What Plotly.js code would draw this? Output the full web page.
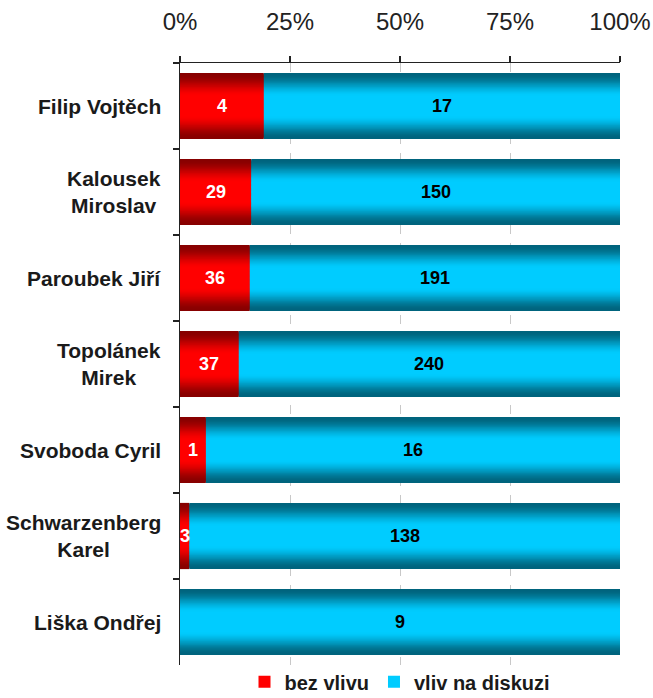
<!DOCTYPE html>
<html>
<head>
<meta charset="utf-8">
<script src="https://cdn.plot.ly/plotly-3.0.1.min.js"></script>
<style>
html,body{margin:0;padding:0;background:#fff;}
#chart{width:653px;height:698px;}
</style>
</head>
<body>
<div id="chart"></div>
<script>
// ---- data ----
var categories = ['Filip Vojtěch', 'Kalousek Miroslav', 'Paroubek Jiří', 'Topolánek Mirek', 'Svoboda Cyril', 'Schwarzenberg Karel', 'Liška Ondřej'];
var categoryLabels = ['Filip Vojtěch', 'Kalousek<br>Miroslav', 'Paroubek Jiří', 'Topolánek<br>Mirek', 'Svoboda Cyril', 'Schwarzenberg<br>Karel', 'Liška Ondřej'];
var bezVlivu = [4, 29, 36, 37, 1, 3, 0];
var vlivNaDiskuzi = [17, 150, 191, 240, 16, 138, 9];
var seriesNames = ['bez vlivu', 'vliv na diskuzi'];
var tickValues = [0, 25, 50, 75, 100];
var tickLabels = ['0%', '25%', '50%', '75%', '100%'];

// ---- derived shares (100% stacked) ----
var totals = bezVlivu.map(function (v, i) { return v + vlivNaDiskuzi[i]; });
var pctRed = bezVlivu.map(function (v, i) { return 100 * v / totals[i]; });
var pctBlue = vlivNaDiskuzi.map(function (v, i) { return 100 * v / totals[i]; });

// ---- styling: vertical gradient via stacked layers ----
var BAR_W = 0.77;
var N = 26;
var redDark = [135, 0, 0], redBright = [255, 0, 0];
var blueDark = [0, 100, 125], blueBright = [0, 204, 255];
function mix(a, b, t) {
  return 'rgb(' + a.map(function (c, i) { return Math.round(c + (b[i] - c) * t); }).join(',') + ')';
}
function ease(f) {
  var t = Math.max(0, Math.min(1, (1 - f) / 0.7));
  return t * t * (3 - 2 * t);
}

var traces = [];
for (var k = 0; k < N; k++) {
  var f = 1 - k / N;
  var t = ease(f);
  var last = (k === N - 1);
  traces.push({
    type: 'bar', orientation: 'h', y: categories, x: pctRed, base: 0,
    width: BAR_W * f, name: seriesNames[0], legendgroup: 'r',
    showlegend: last, marker: { color: mix(redDark, redBright, t), line: { width: 0 } },
    hoverinfo: 'skip'
  });
  traces.push({
    type: 'bar', orientation: 'h', y: categories, x: pctBlue, base: pctRed,
    width: BAR_W * f, name: seriesNames[1], legendgroup: 'b',
    showlegend: last, marker: { color: mix(blueDark, blueBright, t), line: { width: 0 } },
    hoverinfo: 'skip'
  });
}

var annotations = [];
categories.forEach(function (c, i) {
  annotations.push({
    xref: 'paper', x: 0, xshift: -17, xanchor: 'right', align: 'center',
    yref: 'y', y: c, yanchor: 'middle', text: categoryLabels[i], showarrow: false,
    font: { family: 'Liberation Sans, Arial, sans-serif', size: 21, color: '#1a1a1a', weight: 'bold' }
  });
  if (bezVlivu[i] > 0) {
    annotations.push({
      xref: 'x', x: pctRed[i] / 2, yref: 'y', y: c, text: String(bezVlivu[i]), showarrow: false,
      font: { family: 'Liberation Sans, Arial, sans-serif', size: 18, color: '#ffffff', weight: 'bold' }
    });
  }
  if (vlivNaDiskuzi[i] > 0) {
    annotations.push({
      xref: 'x', x: pctRed[i] + pctBlue[i] / 2, yref: 'y', y: c, text: String(vlivNaDiskuzi[i]), showarrow: false,
      font: { family: 'Liberation Sans, Arial, sans-serif', size: 18, color: '#000000', weight: 'bold' }
    });
  }
});

var layout = {
  width: 653, height: 698,
  margin: { l: 180, r: 33, t: 63, b: 33, pad: 0, autoexpand: false },
  paper_bgcolor: '#ffffff', plot_bgcolor: '#ffffff',
  barmode: 'overlay',
  showlegend: true,
  legend: {
    orientation: 'h', x: 0.5, xanchor: 'center', y: -0.028, yanchor: 'middle',
    font: { family: 'Liberation Sans, Arial, sans-serif', size: 20, color: '#1a1a1a', weight: 'bold' },
    itemwidth: 30, bgcolor: 'rgba(0,0,0,0)', borderwidth: 0, tracegroupgap: 0
  },
  xaxis: {
    side: 'top', range: [0, 100], tickvals: tickValues, ticktext: tickLabels,
    showline: true, linecolor: '#222', linewidth: 1.5,
    ticks: 'outside', ticklen: 6, tickcolor: '#222', tickwidth: 1.5,
    ticklabelstandoff: 16,
    showgrid: true, gridcolor: '#c8c8c8', griddash: 'dash', gridwidth: 1,
    zeroline: false, fixedrange: true,
    tickfont: { family: 'Liberation Sans, Arial, sans-serif', size: 24, color: '#222' }
  },
  yaxis: {
    type: 'category', categoryorder: 'array', categoryarray: categories,
    autorange: 'reversed', showticklabels: false,
    showline: true, linecolor: '#222', linewidth: 1.5,
    ticks: 'outside', ticklen: 6, tickcolor: '#222', tickwidth: 1.5, tickson: 'boundaries',
    showgrid: false, zeroline: false, fixedrange: true
  },
  annotations: annotations
};

Plotly.newPlot('chart', traces, layout, { displayModeBar: false, staticPlot: true });
</script>
</body>
</html>
